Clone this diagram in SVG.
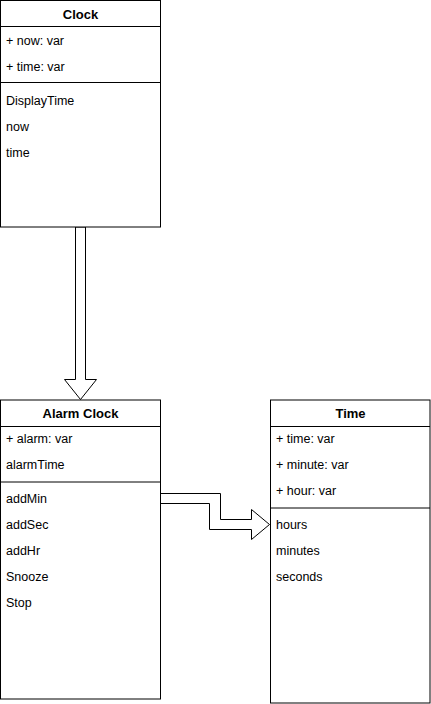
<svg xmlns="http://www.w3.org/2000/svg" width="431" height="704" viewBox="0 0 431 704">
<style>
.box{fill:#fff;stroke:#000;stroke-width:1}
.sep{stroke:#000;stroke-width:1}
.hd{font-family:"Liberation Sans",Arial,sans-serif;font-size:13px;font-weight:bold;fill:#000;text-anchor:middle}
.t{font-family:"Liberation Sans",Arial,sans-serif;font-size:12.5px;fill:#000}
.arr{fill:#fff;stroke:#000;stroke-width:1;stroke-linejoin:miter}
</style>
<rect width="431" height="704" fill="#fff"/>
<g id="connectors">
<polygon class="arr" points="75.5,227 85.5,227 85.5,379.5 96.5,379.5 80.5,399.5 64.5,379.5 75.5,379.5"/>
<polygon class="arr" points="160.5,493.5 220.5,493.5 220.5,519.5 251.5,519.5 251.5,509.5 269.5,524.5 251.5,539.5 251.5,529.5 209.5,529.5 209.5,503.5 160.5,503.5"/>
</g>
<g id="clock">
<rect class="box" x="0.5" y="0.5" width="160" height="226.5"/>
<line class="sep" x1="0.5" y1="26.5" x2="160.5" y2="26.5"/>
<line class="sep" x1="0.5" y1="82.5" x2="160.5" y2="82.5"/>
<text class="hd" x="80.5" y="18.5">Clock</text>
<text class="t" x="6" y="44.5">+ now: var</text>
<text class="t" x="6" y="70.5">+ time: var</text>
<text class="t" x="6" y="104.5">DisplayTime</text>
<text class="t" x="6" y="130.5">now</text>
<text class="t" x="6" y="156.5">time</text>
</g>
<g id="alarm-clock">
<rect class="box" x="0.5" y="400" width="160" height="299"/>
<line class="sep" x1="0.5" y1="426.5" x2="160.5" y2="426.5"/>
<line class="sep" x1="0.5" y1="482" x2="160.5" y2="482"/>
<text class="hd" x="80.5" y="418">Alarm Clock</text>
<text class="t" x="6" y="442.5">+ alarm: var</text>
<text class="t" x="6" y="468.5">alarmTime</text>
<text class="t" x="6" y="502.5">addMin</text>
<text class="t" x="6" y="528.5">addSec</text>
<text class="t" x="6" y="554.5">addHr</text>
<text class="t" x="6" y="580.5">Snooze</text>
<text class="t" x="6" y="606.5">Stop</text>
</g>
<g id="time">
<rect class="box" x="270.5" y="400" width="159.5" height="303"/>
<line class="sep" x1="270.5" y1="426.5" x2="430" y2="426.5"/>
<line class="sep" x1="270.5" y1="508" x2="430" y2="508"/>
<text class="hd" x="350.5" y="418">Time</text>
<text class="t" x="276" y="442.5">+ time: var</text>
<text class="t" x="276" y="468.5">+ minute: var</text>
<text class="t" x="276" y="494.5">+ hour: var</text>
<text class="t" x="276" y="528.5">hours</text>
<text class="t" x="276" y="554.5">minutes</text>
<text class="t" x="276" y="580.5">seconds</text>
</g>
</svg>
